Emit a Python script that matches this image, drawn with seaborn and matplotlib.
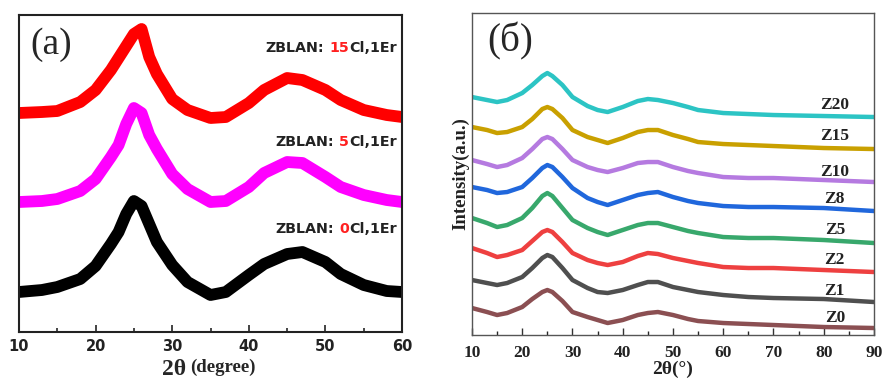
import matplotlib
matplotlib.use("Agg")
import matplotlib.pyplot as plt
from matplotlib.ticker import MultipleLocator
import numpy as np
import pandas as pd
import seaborn as sns

# ---------------- data: panel (a) ----------------
theta_a = [10, 13, 15, 18, 20, 22, 23, 24, 25, 26, 27, 28, 30, 32, 35, 37, 40, 42, 45, 47, 50, 52, 55, 58, 60]
cl0 = [40, 42, 45, 53, 66, 88, 100, 118, 131, 126, 108, 90, 67, 50, 37, 40, 57, 68, 78, 80, 70, 58, 47, 41, 40]
cl5 = [130, 131, 133, 141, 153, 175, 187, 208, 224, 219, 197, 183, 158, 143, 130, 131, 145, 159, 170, 169, 155, 145, 137, 132, 130]
cl15 = [219, 220, 221, 230, 242, 262, 274, 286, 298, 303, 275, 258, 233, 222, 214, 215, 229, 242, 254, 252, 242, 232, 222, 217, 215]
names_a = ["0", "5", "15"]

# ---------------- data: panel (б) ----------------
theta_b = [10, 13, 15, 17, 20, 22, 24, 25, 26, 28, 30, 33, 35, 37, 40, 43, 45, 47, 50, 53, 55, 60, 65, 70, 80, 90]
z0 = [27, 23, 20, 22, 28, 36, 43, 45, 43, 34, 23, 18, 15, 12, 15, 20, 22, 23, 20, 16, 14, 12, 11, 10, 8, 7]
z1 = [55, 52, 50, 52, 58, 67, 77, 80, 78, 67, 55, 47, 43, 42, 45, 50, 53, 53, 48, 45, 43, 40, 38, 37, 36, 33]
z2 = [87, 82, 78, 80, 85, 94, 103, 105, 103, 93, 82, 75, 72, 70, 73, 79, 82, 81, 77, 74, 72, 68, 67, 67, 65, 63]
z5 = [117, 112, 108, 110, 117, 127, 139, 142, 139, 127, 115, 107, 103, 100, 105, 110, 112, 112, 108, 104, 102, 98, 97, 97, 95, 92]
z8 = [148, 145, 142, 143, 148, 157, 167, 170, 168, 158, 147, 137, 133, 130, 135, 140, 142, 143, 138, 134, 132, 129, 128, 128, 127, 124]
z10 = [175, 171, 168, 170, 177, 186, 196, 198, 196, 186, 175, 168, 165, 163, 167, 172, 173, 173, 168, 164, 162, 158, 157, 157, 155, 153]
z15 = [208, 205, 202, 203, 208, 216, 226, 228, 226, 217, 205, 198, 195, 192, 197, 203, 205, 205, 200, 196, 193, 191, 190, 189, 187, 186]
z20 = [238, 235, 233, 235, 242, 250, 259, 262, 259, 250, 238, 229, 225, 223, 228, 234, 236, 235, 232, 228, 225, 222, 221, 220, 219, 218]
names_b = ["Z0", "Z1", "Z2", "Z5", "Z8", "Z10", "Z15", "Z20"]
label_y_b = [17, 44, 75, 105, 136, 163, 199, 230]

# ---------------- styling ----------------
sns.set_theme(style="white")
plt.rcParams["font.family"] = ["Liberation Serif", "DejaVu Serif"]

colors_a = {"0": "#000000", "5": "#ff00ff", "15": "#ff0000"}
colors_b = {"Z0": "#8b4f52", "Z1": "#4f4f4f", "Z2": "#ee4040", "Z5": "#38a86c",
            "Z8": "#2067dc", "Z10": "#b57ae0", "Z15": "#c9a000", "Z20": "#2cc4c4"}

fig = plt.figure(figsize=(8.83, 3.81), dpi=100)
ax1 = fig.add_axes([0.0215, 0.1286, 0.4338, 0.832])
ax2 = fig.add_axes([0.5345, 0.1207, 0.4553, 0.8451])

# panel (a)
df_a = pd.DataFrame({
    "theta": theta_a * 3,
    "I": cl0 + cl5 + cl15,
    "s": [n for n in names_a for _ in theta_a],
})
sns.lineplot(data=df_a, x="theta", y="I", hue="s", palette=colors_a, ax=ax1,
             legend=False, linewidth=8.5, solid_joinstyle="round", solid_capstyle="butt")
ax1.set_xlim(10, 60)
ax1.set_ylim(0, 317)
ax1.set_yticks([])
ax1.set_xticks([10, 20, 30, 40, 50, 60])
ax1.xaxis.set_minor_locator(MultipleLocator(5))
ax1.tick_params(axis="x", which="major", direction="in", length=5, width=1.2, pad=5,
                bottom=True, colors="#222222")
ax1.tick_params(axis="x", which="minor", direction="in", length=3, width=1.2, bottom=True)
for lbl in ax1.get_xticklabels():
    lbl.set_fontfamily("DejaVu Sans")
    lbl.set_fontweight("bold")
    lbl.set_fontsize(10.5)
for sp in ax1.spines.values():
    sp.set_visible(True)
    sp.set_color("#222222")
    sp.set_linewidth(1.5)
ax1.set_xlabel("")
ax1.set_ylabel("")
ax1.text(0.437, -0.117, "2θ", transform=ax1.transAxes, ha="right", va="center",
         fontsize=17, fontweight="bold", family="Liberation Serif")
ax1.text(0.446, -0.112, "(degree)", transform=ax1.transAxes, ha="left", va="center",
         fontsize=13.5, fontweight="bold", family="Liberation Serif")
ax1.text(14.2, 287, "(a)", ha="center", va="center", fontsize=27, family="Liberation Serif")

label_y_a = {"15": 284, "5": 190, "0": 103}
for n in ["15", "5", "0"]:
    t3 = ax1.text(59.3, label_y_a[n], "Cl,1Er", ha="right", va="center", fontsize=10.3,
                  fontweight="bold", family="DejaVu Sans", color="#222222")
    t2 = ax1.annotate(n, xy=(0, 0.5), xycoords=t3, ha="right", va="center", fontsize=10.3,
                      fontweight="bold", family="DejaVu Sans", color="#ff2020")
    ax1.annotate("ZBLAN:", xy=(0, 0.5), xycoords=t2, xytext=(-4, 0), textcoords="offset points",
                 ha="right", va="center", fontsize=10.3, fontweight="bold",
                 family="DejaVu Sans", color="#222222")

# panel (б)
series_b = [z0, z1, z2, z5, z8, z10, z15, z20]
df_b = pd.DataFrame({
    "theta": theta_b * len(series_b),
    "I": sum(series_b, []),
    "s": [n for n in names_b for _ in theta_b],
})
sns.lineplot(data=df_b, x="theta", y="I", hue="s", hue_order=names_b, palette=colors_b, ax=ax2,
             legend=False, linewidth=3.2, solid_joinstyle="round")
ax2.set_xlim(10, 90)
ax2.set_ylim(0, 322)
ax2.set_yticks([])
ax2.set_xticks(list(range(10, 91, 10)))
ax2.xaxis.set_minor_locator(MultipleLocator(5))
ax2.tick_params(axis="x", which="major", direction="in", length=5, width=1, pad=7,
                bottom=True, colors="#333333")
ax2.tick_params(axis="x", which="minor", direction="in", length=3, width=1, bottom=True)
for lbl in ax2.get_xticklabels():
    lbl.set_fontfamily("Liberation Serif")
    lbl.set_fontweight("bold")
    lbl.set_fontsize(12.5)
    lbl.set_color("#222222")
for sp in ax2.spines.values():
    sp.set_visible(True)
    sp.set_color("#555555")
    sp.set_linewidth(1.0)
ax2.set_xlabel("2θ(°)", fontsize=14, fontweight="bold", labelpad=0, color="#222222")
ax2.set_ylabel("Intensity(a.u.)", fontsize=13.5, fontweight="bold", labelpad=2, color="#222222")
ax2.text(17.6, 294, "(б)", ha="center", va="center", fontsize=28, family="Liberation Serif")
for n, yv in zip(names_b, label_y_b):
    ax2.text(82.2, yv, n, ha="center", va="center", fontsize=12.5, fontweight="bold",
             color="#222222")

fig.savefig("out.png", dpi=100)
